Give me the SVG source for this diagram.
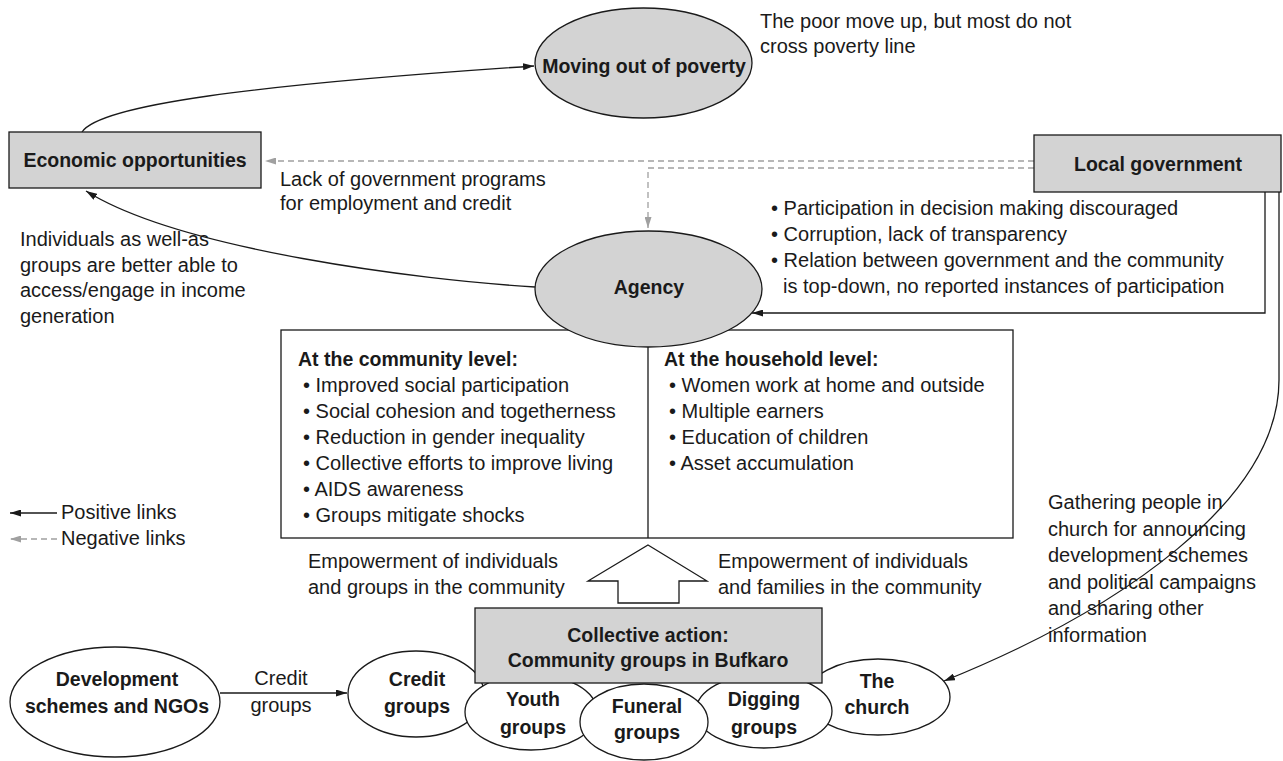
<svg xmlns="http://www.w3.org/2000/svg" width="1283" height="761" viewBox="0 0 1283 761">
<defs>
<style>
text{font-family:"Liberation Sans",Arial,sans-serif;font-size:20px;fill:#1a1a1a}
.b{font-weight:bold;font-size:19.5px}
.c{text-anchor:middle}
.gray{fill:#d3d3d3;stroke:#1a1a1a;stroke-width:1.3}
.white{fill:#fff;stroke:#1a1a1a;stroke-width:1.3}
.pos{fill:none;stroke:#1a1a1a;stroke-width:1.3}
.neg{fill:none;stroke:#a0a0a0;stroke-width:1.3;stroke-dasharray:6 4}
</style>
<marker id="ah" viewBox="0 0 11 7" refX="11" refY="3.5" markerWidth="11" markerHeight="7" markerUnits="userSpaceOnUse" orient="auto"><path d="M0,0 L11,3.5 L0,7 z" fill="#1a1a1a"/></marker>
<marker id="ahg" viewBox="0 0 11 7" refX="11" refY="3.5" markerWidth="11" markerHeight="7" markerUnits="userSpaceOnUse" orient="auto"><path d="M0,0 L11,3.5 L0,7 z" fill="#a0a0a0"/></marker>
</defs>
<rect width="1283" height="761" fill="#fff"/>

<g id="connectors">
<path class="pos" d="M82,132 C100,105 250,85 534,66" marker-end="url(#ah)"/>
<path class="pos" d="M535,287 C420,280 180,250 86,191" marker-end="url(#ah)"/>
<path class="neg" d="M1034,161 L265,161" marker-end="url(#ahg)"/>
<path class="neg" d="M1034,168 L648,168 L648,228" marker-end="url(#ahg)"/>
<path class="pos" d="M1265,192 L1265,313 L752,313" marker-end="url(#ah)"/>
<path class="pos" d="M1279,192 L1279,380 C1279,500 1120,610 944,681" marker-end="url(#ah)"/>
<path class="pos" d="M220,693 L347,693" marker-end="url(#ah)"/>
</g>

<g id="moving-out">
<ellipse class="gray" cx="643.5" cy="63" rx="108.5" ry="55"/>
<text class="b c" x="644" y="73">Moving out of poverty</text>
</g>
<g id="moving-note">
<text x="760" y="28">The poor move up, but most do not</text>
<text x="760" y="53">cross poverty line</text>
</g>

<g id="economic">
<rect class="gray" x="9" y="132" width="252" height="56"/>
<text class="b c" x="135" y="167">Economic opportunities</text>
</g>
<g id="lack-note">
<text x="280" y="186">Lack of government programs</text>
<text x="280" y="210">for employment and credit</text>
</g>

<g id="local-gov">
<rect class="gray" x="1034" y="135" width="247" height="57"/>
<text class="b c" x="1158" y="171">Local government</text>
</g>
<g id="gov-notes">
<text x="771" y="215">• Participation in decision making discouraged</text>
<text x="771" y="241">• Corruption, lack of transparency</text>
<text x="771" y="267">• Relation between government and the community</text>
<text x="783" y="293">is top-down, no reported instances of participation</text>
</g>

<g id="income-note">
<text x="20" y="246">Individuals as well-as</text>
<text x="20" y="272">groups are better able to</text>
<text x="20" y="297">access/engage in income</text>
<text x="20" y="323">generation</text>
</g>

<g id="levels">
<rect class="white" x="281" y="330" width="732" height="208"/>
<line class="pos" x1="648" y1="330" x2="648" y2="538"/>
<text class="b" x="298" y="366">At the community level:</text>
<text x="303" y="392">• Improved social participation</text>
<text x="303" y="418">• Social cohesion and togetherness</text>
<text x="303" y="444">• Reduction in gender inequality</text>
<text x="303" y="470">• Collective efforts to improve living</text>
<text x="303" y="496">• AIDS awareness</text>
<text x="303" y="522">• Groups mitigate shocks</text>
<text class="b" x="664" y="366">At the household level:</text>
<text x="669" y="392">• Women work at home and outside</text>
<text x="669" y="418">• Multiple earners</text>
<text x="669" y="444">• Education of children</text>
<text x="669" y="470">• Asset accumulation</text>
</g>

<g id="agency">
<ellipse class="gray" cx="648.5" cy="289" rx="113.5" ry="58"/>
<text class="b c" x="649" y="294">Agency</text>
</g>

<g id="legend">
<path class="pos" d="M57,513 L10,513" marker-end="url(#ah)"/>
<text x="61" y="519">Positive links</text>
<path class="neg" d="M57,539 L10,539" marker-end="url(#ahg)"/>
<text x="61" y="545">Negative links</text>
</g>

<g id="empowerment">
<polygon class="white" points="648,545 707,581 679,581 679,603 618,603 618,581 588,581"/>
<text x="308" y="568">Empowerment of individuals</text>
<text x="308" y="594">and groups in the community</text>
<text x="718" y="568">Empowerment of individuals</text>
<text x="718" y="594">and families in the community</text>
</g>

<g id="development">
<ellipse class="white" cx="115" cy="702" rx="105" ry="55"/>
<text class="b c" x="117" y="686">Development</text>
<text class="b c" x="117" y="713">schemes and NGOs</text>
</g>
<g id="credit-label">
<text class="c" x="281" y="685">Credit</text>
<text class="c" x="281" y="712">groups</text>
</g>

<g id="credit-groups">
<ellipse class="white" cx="416" cy="694" rx="68" ry="43"/>
<text class="b c" x="417" y="686">Credit</text>
<text class="b c" x="417" y="713">groups</text>
</g>
<g id="church">
<ellipse class="white" cx="878" cy="697" rx="72" ry="38"/>
<text class="b c" x="877" y="688">The</text>
<text class="b c" x="877" y="714">church</text>
</g>
<g id="digging-groups">
<ellipse class="white" cx="764" cy="711" rx="68" ry="37"/>
<text class="b c" x="764" y="706">Digging</text>
<text class="b c" x="764" y="734">groups</text>
</g>
<g id="youth-groups">
<ellipse class="white" cx="531" cy="712" rx="66" ry="38"/>
<text class="b c" x="533" y="706">Youth</text>
<text class="b c" x="533" y="734">groups</text>
</g>
<g id="funeral-groups">
<ellipse class="white" cx="644" cy="722" rx="64" ry="38"/>
<text class="b c" x="647" y="713">Funeral</text>
<text class="b c" x="647" y="739">groups</text>
</g>

<g id="collective-action">
<rect class="gray" x="475" y="608" width="347" height="75"/>
<text class="b c" x="648" y="642">Collective action:</text>
<text class="b c" x="648" y="667">Community groups in Bufkaro</text>
</g>

<g id="church-note">
<text x="1048" y="509">Gathering people in</text>
<text x="1048" y="536">church for announcing</text>
<text x="1048" y="562">development schemes</text>
<text x="1048" y="589">and political campaigns</text>
<text x="1048" y="615">and sharing other</text>
<text x="1048" y="642">information</text>
</g>
</svg>
